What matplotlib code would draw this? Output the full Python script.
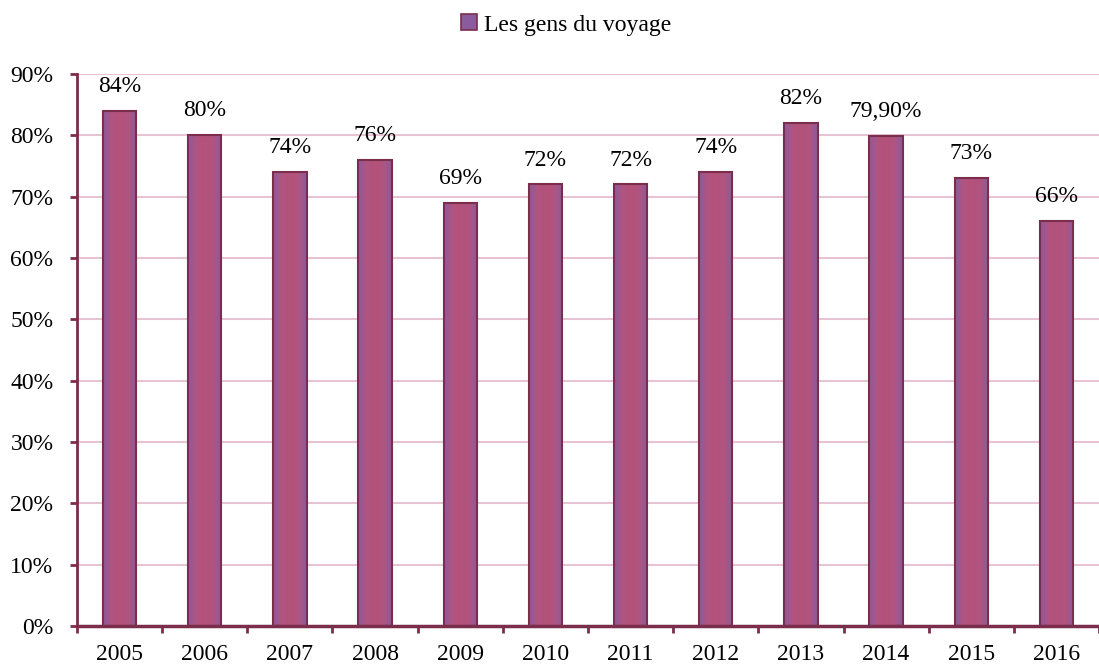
import numpy as np
import matplotlib.pyplot as plt
from matplotlib.colors import LinearSegmentedColormap
from matplotlib.patches import Patch

plt.rcParams['font.family'] = ['Liberation Serif', 'DejaVu Serif']

years = ['2005', '2006', '2007', '2008', '2009', '2010',
         '2011', '2012', '2013', '2014', '2015', '2016']
values = [84, 80, 74, 76, 69, 72, 72, 74, 82, 79.9, 73, 66]
labels = ['84%', '80%', '74%', '76%', '69%', '72%',
          '72%', '74%', '82%', '79,90%', '73%', '66%']

edge = '#7b2d4c'
grid_col = '#e8c3d3'
grad = LinearSegmentedColormap.from_list('g', ['#8a5c9e', '#b0547f', '#b4527a', '#b0547f', '#8a5c9e'])

fig = plt.figure(figsize=(10.99, 6.64), dpi=100)
ax = fig.add_axes([77 / 1099, 1 - 626 / 664, 1 - 77 / 1099, (626 - 74) / 664])

x = np.arange(len(years))
bars = ax.bar(x, values, width=0.39, facecolor='none', edgecolor=edge, linewidth=1.5, zorder=3)

g = np.linspace(0, 1, 128).reshape(1, -1)
for b in bars:
    x0, w, h = b.get_x(), b.get_width(), b.get_height()
    im = ax.imshow(g, cmap=grad, aspect='auto', extent=[x0, x0 + w, 0, h],
                   zorder=2, interpolation='bilinear')
    im.set_clip_path(b)

for xi, v, lab in zip(x, values, labels):
    ax.annotate(lab, (xi, v), xytext=(0, 10), textcoords='offset points',
                ha='center', va='bottom', fontsize=17)

ax.set_xlim(-0.5, 11.45)
ax.set_ylim(0, 90)
ax.set_yticks(range(0, 91, 10))
ax.set_yticklabels([f'{t}%' for t in range(0, 91, 10)])
ax.set_xticks(x)
ax.set_xticklabels(years)
ax.set_xticks(np.arange(-0.5, 12, 1), minor=True)
ax.tick_params(axis='x', which='major', length=0, labelsize=17, pad=13)
ax.tick_params(axis='x', which='minor', length=5, width=2, color=edge)
ax.tick_params(axis='y', length=5, width=2, color=edge, labelsize=17, pad=12)

ax.yaxis.grid(True, color=grid_col, linewidth=1.5, zorder=0)
ax.set_axisbelow(True)
for s in ['top', 'right']:
    ax.spines[s].set_visible(False)
ax.spines['left'].set_color(edge)
ax.spines['left'].set_linewidth(2)
ax.spines['bottom'].set_color(edge)
ax.spines['bottom'].set_linewidth(2.5)

handle = Patch(facecolor='#8a5c9e', edgecolor=edge, linewidth=1.2)
fig.legend([handle], ['Les gens du voyage'], loc='center',
           bbox_to_anchor=(566 / 1099, 1 - 25 / 664), frameon=False, fontsize=17,
           handlelength=0.65, handleheight=0.65, handletextpad=0.3)

fig.savefig('out.png', dpi=100)
